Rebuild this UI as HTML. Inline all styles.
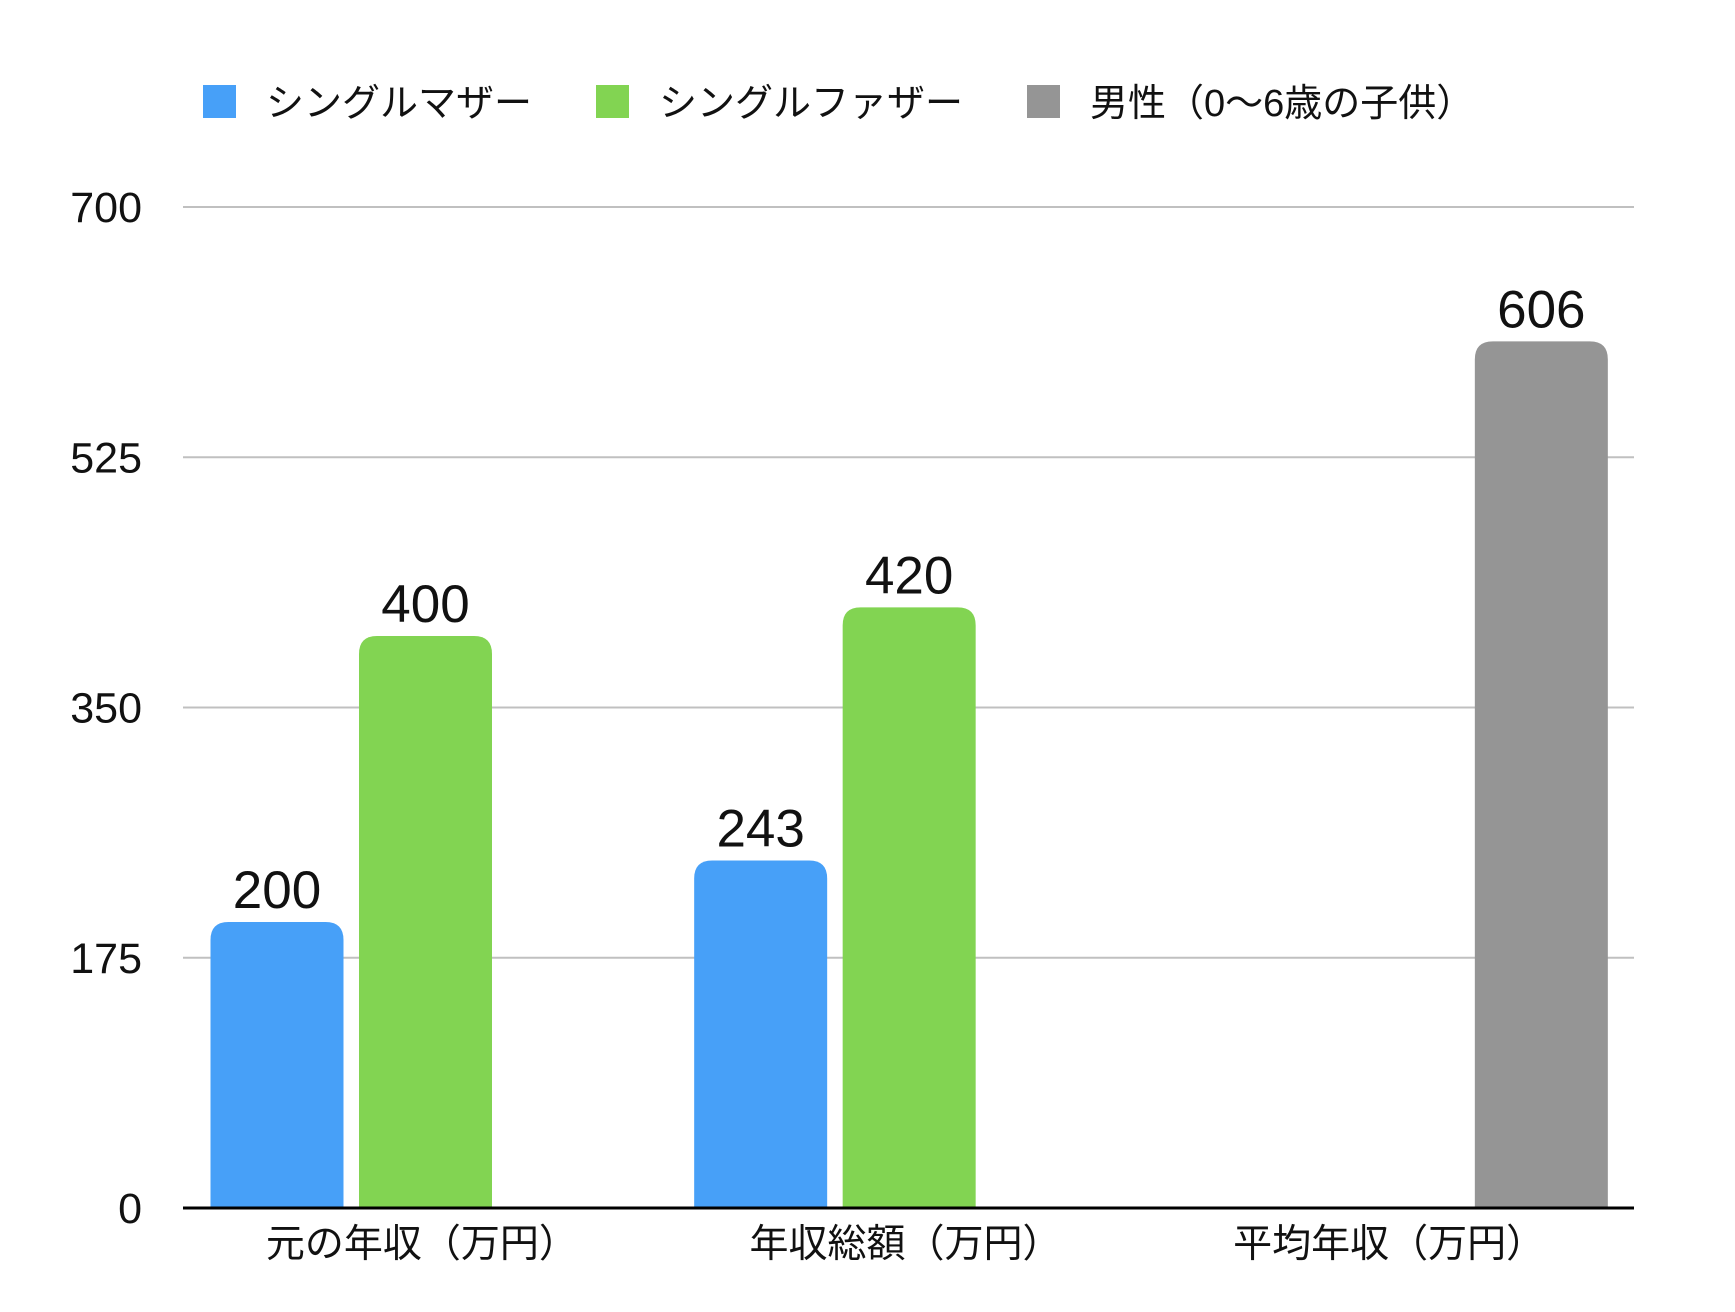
<!DOCTYPE html>
<html><head><meta charset="utf-8"><style>
html,body{margin:0;padding:0;background:#fff;}
svg{display:block;font-family:"Liberation Sans","Noto Sans CJK JP",sans-serif;}
</style></head><body>
<svg id="chart" width="1735" height="1312" viewBox="0 0 1735 1312" xmlns="http://www.w3.org/2000/svg">
<g id="legend"></g>
<g id="grid"></g>
<g id="bars"></g>
<g id="labels"></g>
<g id="xaxis"></g>
</svg>
<script>
const categories = ["元の年収（万円）", "年収総額（万円）", "平均年収（万円）"];
const seriesNames = ["シングルマザー", "シングルファザー", "男性（0〜6歳の子供）"];
const motherValues = [200, 243, null];
const fatherValues = [400, 420, null];
const maleValues = [null, null, 606];
const yTicks = [0, 175, 350, 525, 700];

const NS = "http://www.w3.org/2000/svg";
const colors = ["#47a0f8", "#82d452", "#959595"];
const series = [motherValues, fatherValues, maleValues];
const plotL = 183, plotR = 1634, y0px = 1208, y700px = 207, yMax = 700;
const yScale = v => y0px - (v / yMax) * (y0px - y700px);
const catW = (plotR - plotL) / categories.length;
const barW = 133, barStep = 148.5, barOff = 27.5;
const xBar = (c, s) => plotL + c * catW + barOff + s * barStep;

function mk(tag, attrs, parent) {
  const e = document.createElementNS(NS, tag);
  for (const k in attrs) e.setAttribute(k, attrs[k]);
  parent.appendChild(e);
  return e;
}

// legend
const legend = document.getElementById("legend");
const legX = [203, 596, 1027];
seriesNames.forEach((n, i) => {
  const r = mk("rect", {x: legX[i], y: 85, width: 33, height: 33, fill: colors[i]}, legend);
  
  
  const t = mk("text", {x: legX[i] + 63, y: 116, "font-size": 38, fill: "#111"}, legend);
  t.textContent = n;
  
  
});

// grid + y ticks
const grid = document.getElementById("grid");
yTicks.forEach(v => {
  const y = yScale(v);
  if (v !== 0) {
    const l = mk("line", {x1: plotL, x2: plotR, y1: y, y2: y, stroke: "#c0c0c0", "stroke-width": 2}, grid);
    
    
  }
  const t = mk("text", {x: 142, y: y + 15, "font-size": 43, "text-anchor": "end", fill: "#111"}, grid);
  t.textContent = v;
  
  
});

// bars
const bars = document.getElementById("bars");
const labels = document.getElementById("labels");
function barPath(x, y, w, h, r) {
  r = Math.min(r, h, w / 2);
  return `M${x},${y + h} L${x},${y + r} Q${x},${y} ${x + r},${y} L${x + w - r},${y} Q${x + w},${y} ${x + w},${y + r} L${x + w},${y + h} Z`;
}
series.forEach((vals, s) => {
  vals.forEach((v, c) => {
    if (v == null) return;
    const x = xBar(c, s), y = yScale(v), h = y0px - y;
    const p = mk("path", {d: barPath(x, y, barW, h, 18), fill: colors[s]}, bars);
    
    
    const t = mk("text", {x: x + barW / 2, y: y - 14, "font-size": 53, "text-anchor": "middle", fill: "#111"}, labels);
    t.textContent = v;
    
    
  });
});

// x axis
const xaxis = document.getElementById("xaxis");
const ax = mk("line", {x1: plotL, x2: plotR, y1: y0px, y2: y0px, stroke: "#000", "stroke-width": 3}, xaxis);


categories.forEach((c, i) => {
  const t = mk("text", {x: plotL + (i + 0.5) * catW - 3, y: 1257, "font-size": 39, "text-anchor": "middle", fill: "#111"}, xaxis);
  t.textContent = c;
  
  
});
</script>
</body></html>
